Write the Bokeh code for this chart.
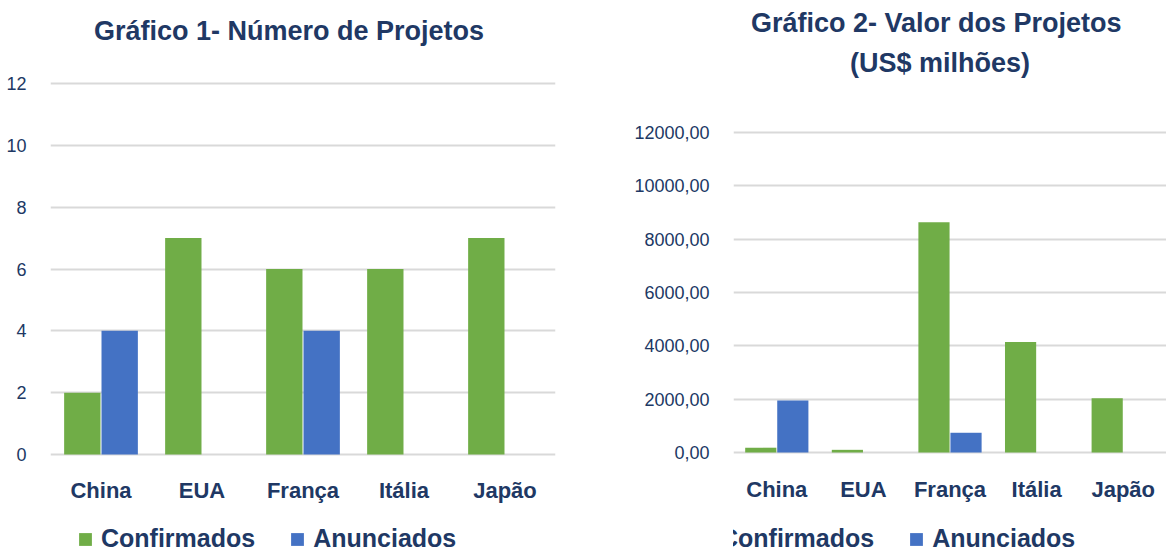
from bokeh.plotting import figure
from bokeh.models import (ColumnDataSource, FactorRange, Range1d, FixedTicker, Legend, LegendItem,
                          CustomJSTickFormatter)
from bokeh.transform import dodge
from bokeh.layouts import row
from bokeh.embed import file_html
from bokeh.resources import INLINE

categories = ["China", "EUA", "França", "Itália", "Japão"]
num_confirmados = [2, 7, 6, 6, 7]
num_anunciados = [4, 0, 4, 0, 0]
val_confirmados = [180, 100, 8630, 4140, 2030]
val_anunciados = [1950, 0, 740, 0, 0]
ticks1 = [0, 2, 4, 6, 8, 10, 12]
ticks2 = [0, 2000, 4000, 6000, 8000, 10000, 12000]
title1 = ["Gráfico 1- Número de Projetos"]
title2 = ["Gráfico 2-  Valor dos Projetos", "(US$ milhões)"]
series_names = ["Confirmados", "Anunciados"]

GREEN = "#70AD47"
BLUE = "#4472C4"
NAVY = "#203864"
GRID = "#D9D9D9"
H = 553


def make_chart(width, conf, anun, ticks, left, right, top_px, zero_px, titles, title_px,
               title_dx, label_px, legend_x, fmt=None):
    # pixel layout: ticks[-1] at top_px, 0 at zero_px (figure coordinates)
    ppu = (zero_px - top_px) / ticks[-1]
    y_end = ticks[-1] + top_px / ppu
    y_start = -(H - zero_px) / ppu
    src = ColumnDataSource(dict(cat=categories, conf=conf, anun=anun))
    p = figure(x_range=FactorRange(*categories), y_range=Range1d(y_start, y_end),
               width=width, height=H, output_backend="svg", toolbar_location=None,
               title=None, x_axis_location=None,
               min_border_left=left, min_border_right=right,
               min_border_top=0, min_border_bottom=0)
    r1 = p.vbar(x=dodge("cat", -0.185, range=p.x_range), top="conf", width=0.36, source=src,
                fill_color=GREEN, line_color=None)
    r2 = p.vbar(x=dodge("cat", 0.185, range=p.x_range), top="anun", width=0.36, source=src,
                fill_color=BLUE, line_color=None)
    p.x_range.range_padding = 0
    p.outline_line_color = None
    p.xgrid.grid_line_color = None
    p.ygrid.grid_line_color = GRID
    p.ygrid.grid_line_width = 2
    p.yaxis.ticker = FixedTicker(ticks=ticks)
    if fmt is not None:
        p.yaxis.formatter = fmt
    p.yaxis.axis_line_color = None
    p.yaxis.major_tick_line_color = None
    p.yaxis.minor_tick_line_color = None
    p.yaxis.major_label_standoff = 18
    p.yaxis.major_label_text_font_size = "18px"
    p.yaxis.major_label_text_color = NAVY
    # category labels below the zero line
    lab_y = -(label_px - zero_px) / ppu
    p.text(x=categories, y=[lab_y] * len(categories), text=categories,
           text_align="center", text_baseline="middle", text_font_size="22px",
           text_font_style="bold", text_color=NAVY)
    # titles
    ty = [ticks[-1] + (top_px - t) / ppu for t in title_px]
    p.text(x=[categories[2]] * len(titles), y=ty, text=titles, x_offset=title_dx,
           text_align="center", text_baseline="middle", text_font_size="27px",
           text_font_style="bold", text_color=NAVY)
    legend = Legend(items=[LegendItem(label=series_names[0], renderers=[r1]),
                           LegendItem(label=series_names[1], renderers=[r2])],
                    orientation="horizontal", location=(legend_x, 0),
                    label_text_font_style="bold",
                    label_text_font_size="25px", label_text_color=NAVY,
                    glyph_width=16, glyph_height=16, spacing=34, label_standoff=8,
                    border_line_color=None, background_fill_alpha=0,
                    margin=0, padding=0)
    p.add_layout(legend, "center")
    return p


p1 = make_chart(583, num_confirmados, num_anunciados, ticks1, 50, 28, 83, 454,
                title1, [30], -14, 490, 27)
fmt = CustomJSTickFormatter(code="return tick.toFixed(2).replace('.', ',');")
p2 = make_chart(583, val_confirmados, val_anunciados, ticks2, 150, 0, 132, 452,
                title2, [22, 62], -10, 489, -37, fmt)

layout = row(p1, p2)
open("out.html", "w").write(file_html(layout, INLINE))
